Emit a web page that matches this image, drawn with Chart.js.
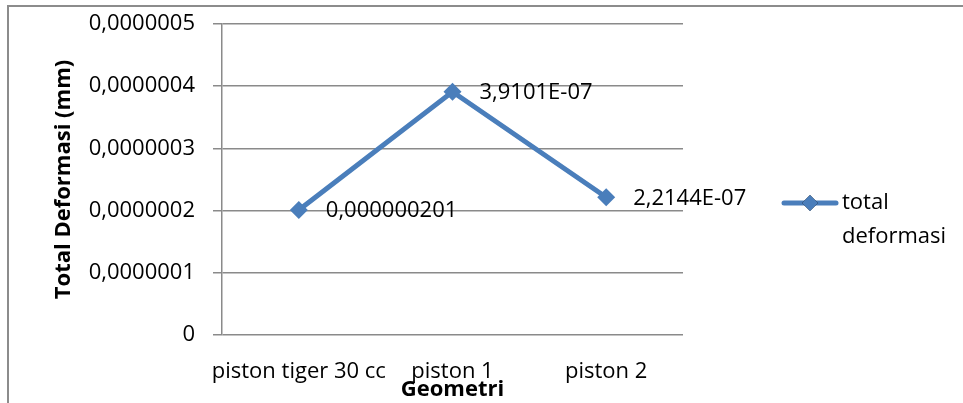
<!DOCTYPE html>
<html>
<head>
<meta charset="utf-8">
<script src="https://cdn.jsdelivr.net/npm/chart.js@4/dist/chart.umd.min.js"></script>
<style>
  html, body { margin: 0; padding: 0; background: #fff; }
  #wrap { position: relative; width: 963px; height: 403px; }
</style>
</head>
<body>
<div id="wrap"><canvas id="chart" width="963" height="403"></canvas></div>
<script>
// ── Data ───────────────────────────────────────────────────────
const categories = ["piston tiger 30 cc", "piston 1", "piston 2"];
const deformasi = [2.01e-7, 3.9101e-7, 2.2144e-7];
const pointLabels = ["0,000000201", "3,9101E-07", "2,2144E-07"];
const yTickValues = [0, 1e-7, 2e-7, 3e-7, 4e-7, 5e-7];
const yTickLabels = ["0", "0,0000001", "0,0000002", "0,0000003", "0,0000004", "0,0000005"];
const seriesName = ["total", "deformasi"];

const FONT = "'Open Sans', sans-serif";
const FS = 22;
const BLUE = "#4a7ebb";
const GRID = "#8a8a8a";

// ── Outer frame (left + top edge of the chart box) ──────────────
const framePlugin = {
  id: "frame",
  beforeDraw(chart) {
    const ctx = chart.ctx;
    ctx.save();
    ctx.strokeStyle = "#8c8c8c";
    ctx.lineWidth = 2;
    ctx.beginPath();
    ctx.moveTo(8, 403);
    ctx.lineTo(8, 6);
    ctx.lineTo(963, 6);
    ctx.stroke();
    ctx.restore();
  },
};

// ── Data labels right of each point ─────────────────────────────
const labelPlugin = {
  id: "pointLabels",
  afterDatasetsDraw(chart) {
    const ctx = chart.ctx;
    const meta = chart.getDatasetMeta(0);
    ctx.save();
    ctx.font = FS + "px " + FONT;
    ctx.fillStyle = "#000";
    ctx.textAlign = "left";
    ctx.textBaseline = "middle";
    meta.data.forEach((pt, i) => {
      ctx.fillText(pointLabels[i], pt.x + 27, pt.y + 1);
    });
    ctx.restore();
  },
};

// ── Legend (two-line series name) ───────────────────────────────
const legendPlugin = {
  id: "sideLegend",
  afterDraw(chart) {
    const ctx = chart.ctx;
    const ds = chart.data.datasets[0];
    const y = 203;
    ctx.save();
    ctx.strokeStyle = ds.borderColor;
    ctx.lineWidth = 5;
    ctx.lineCap = "round";
    ctx.beginPath();
    ctx.moveTo(784, y);
    ctx.lineTo(836, y);
    ctx.stroke();
    Chart.helpers.drawPoint(ctx, { pointStyle: "rectRot", radius: 8, borderWidth: 0 }, 810, y);
    ctx.fillStyle = ds.backgroundColor;
    ctx.fill();
    ctx.font = FS + "px " + FONT;
    ctx.fillStyle = "#000";
    ctx.textAlign = "left";
    ctx.textBaseline = "middle";
    seriesName.forEach((t, i) => ctx.fillText(t, 842, y + i * 34));
    ctx.restore();
  },
};

new Chart(document.getElementById("chart"), {
  type: "line",
  data: {
    labels: categories,
    datasets: [{
      label: seriesName.join(" "),
      data: deformasi,
      borderColor: BLUE,
      backgroundColor: BLUE,
      borderWidth: 5,
      pointStyle: "rectRot",
      pointRadius: 9,
      pointBorderWidth: 0,
      pointBackgroundColor: BLUE,
      tension: 0,
    }],
  },
  options: {
    responsive: false,
    animation: false,
    layout: { padding: { top: 24, right: 280, left: 0, bottom: 0 } },
    plugins: { legend: { display: false }, tooltip: { enabled: false } },
    scales: {
      x: {
        offset: true,
        grid: { display: false, drawTicks: false },
        border: { display: false },
        ticks: {
          color: "#000", font: { family: FONT, size: FS }, padding: 24,
          maxRotation: 0, autoSkip: false,
        },
        title: {
          display: true, text: "Geometri", color: "#000",
          font: { family: FONT, size: FS, weight: "bold" }, padding: { top: 0, bottom: 0 },
        },
        afterFit(scale) { scale.height = 68; },
      },
      y: {
        min: 0,
        max: 5e-7,
        afterBuildTicks(scale) { scale.ticks = yTickValues.map(v => ({ value: v })); },
        grid: { color: GRID, lineWidth: 1.5, tickLength: 9 },
        border: { color: GRID, width: 1.5 },
        ticks: {
          color: "#000", font: { family: FONT, size: FS }, padding: 18,
          callback: (v, i) => yTickLabels[i],
        },
        title: {
          display: true, text: "Total Deformasi (mm)", color: "#000",
          font: { family: FONT, size: FS, weight: "bold" }, padding: { top: 51, bottom: 0 },
        },
        afterFit(scale) {
          scale.width = 222;
          scale.paddingTop = 0;
          scale.paddingBottom = 0;
        },
      },
    },
  },
  plugins: [framePlugin, labelPlugin, legendPlugin],
});
</script>
</body>
</html>
